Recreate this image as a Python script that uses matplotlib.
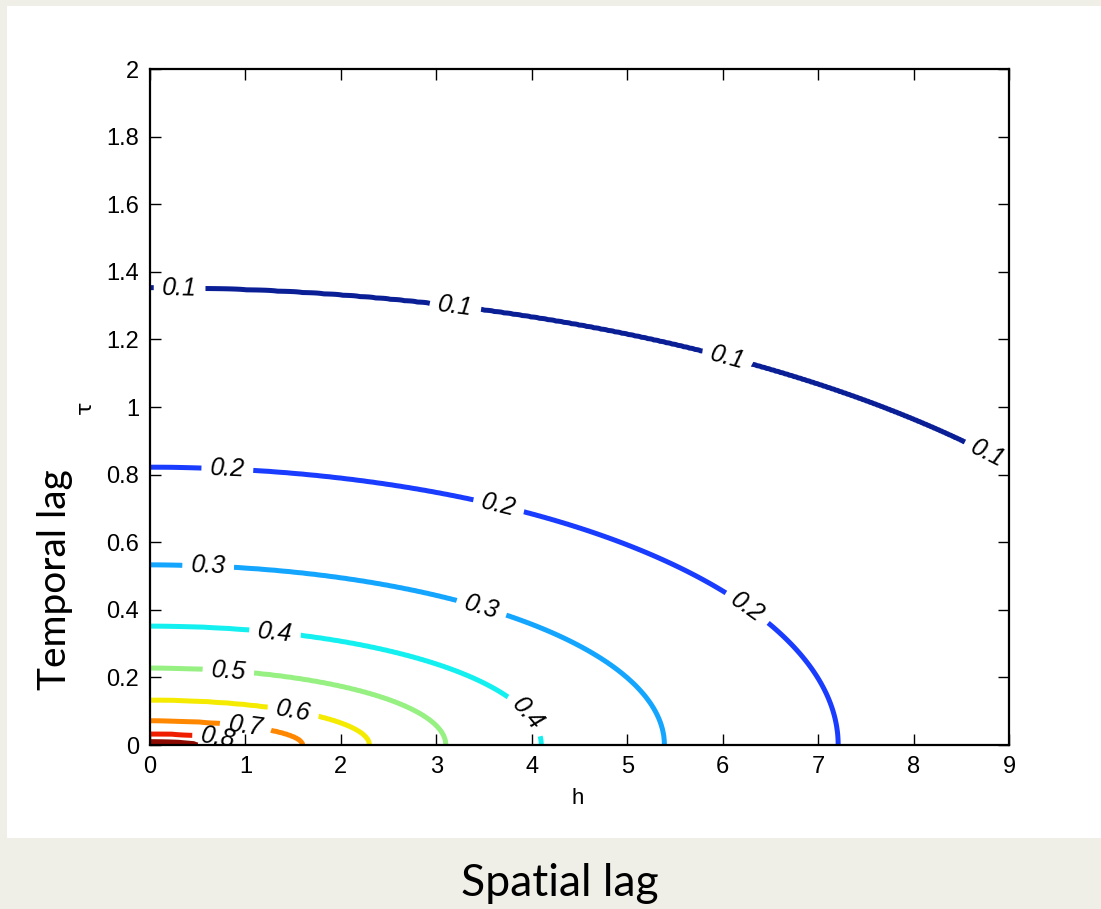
import numpy as np
import matplotlib
matplotlib.use("Agg")
import matplotlib.pyplot as plt
from matplotlib.patches import Rectangle

# ---- data ----
levels = [0.1, 0.2, 0.3, 0.4, 0.5, 0.6, 0.7, 0.8, 0.9]
# spatial-lag intercept (tau = 0) of each contour
h_intercepts = [11.4, 7.21, 5.39, 4.10, 3.10, 2.30, 1.60, 0.97, 0.50]
# temporal-lag intercept (h = 0) of each contour
tau_intercepts = [1.352, 0.822, 0.533, 0.352, 0.228, 0.133, 0.072, 0.033, 0.010]
level_colors = ["#0a1e96", "#193cff", "#14a5ff", "#14f0f0", "#96f082",
                "#f5eb00", "#ff8700", "#f01e00", "#8c0a00"]

# contour label positions (h, tau)
label_pos = [(0.31, 1.346), (3.2, 1.296), (6.05, 1.148), (8.75, 0.849),
             (0.81, 0.814), (3.67, 0.725), (6.39, 0.459),
             (0.61, 0.533), (3.49, 0.42),
             (1.31, 0.334), (3.98, 0.098),
             (0.82, 0.216),
             (1.5, 0.098),
             (1.0, 0.053),
             (0.71, 0.015)]

xticks = [0, 1, 2, 3, 4, 5, 6, 7, 8, 9]
yticks = [0, 0.2, 0.4, 0.6, 0.8, 1, 1.2, 1.4, 1.6, 1.8, 2]
yticklabels = ["0", "0.2", "0.4", "0.6", "0.8", "1", "1.2", "1.4", "1.6", "1.8", "2"]

# ---- build field whose level sets pass through the read intercepts ----
h = np.linspace(0, 9, 700)
t = np.linspace(0, 2, 500)
H, T = np.meshgrid(h, t)
R = np.array([np.sqrt((H / a) ** 2 + (T / b) ** 2)
              for a, b in zip(h_intercepts, tau_intercepts)])
Z = np.full(H.shape, np.nan)
L = np.array(levels)
for k in range(len(L) - 1):
    m = (R[k] <= 1) & (R[k + 1] > 1)
    frac = (1 - R[k][m]) / (R[k + 1][m] - R[k][m])
    Z[m] = L[k] + frac * (L[k + 1] - L[k])
outside = R[0] > 1
Z[outside] = L[0] - 0.05 * (R[0][outside] - 1)
inside = R[-1] <= 1
Z[inside] = L[-1] + 0.1 * (1 - R[-1][inside])

# ---- figure ----
fig = plt.figure(figsize=(11.01, 9.09), dpi=100)
fig.patch.set_facecolor("#f0efe7")
fig.patches.append(Rectangle((7 / 1101, 1 - 838 / 909), 1.0, (838 - 6) / 909,
                             transform=fig.transFigure, facecolor="white",
                             edgecolor="none", zorder=-10))

ax = fig.add_axes([150 / 1101, 1 - 745 / 909, (1009 - 150) / 1101, (745 - 69) / 909])
ax.set_facecolor("white")
ax.set_zorder(5)

cs = ax.contour(H, T, Z, levels=levels, colors=level_colors, linewidths=3.6)
ax.clabel(cs, levels=levels, manual=label_pos, inline=True, inline_spacing=6,
          fmt="%.1f", fontsize=18, colors="black")
for txt in cs.labelTexts:
    txt.set_fontstyle("italic")
    txt.set_family("Liberation Sans")

ax.set_xlim(0, 9)
ax.set_ylim(0, 2)
ax.set_xticks(xticks)
ax.set_yticks(yticks)
ax.set_yticklabels(yticklabels)
ax.tick_params(direction="in", length=8, width=1, top=True, right=True,
               labelsize=17)
ax.tick_params(axis="x", pad=8)
ax.tick_params(axis="y", pad=8)
for lab in ax.get_xticklabels() + ax.get_yticklabels():
    lab.set_family("Liberation Sans")
for s in ax.spines.values():
    s.set_linewidth(1.6)

fig.text(578 / 1101, 1 - 799 / 909, "h", ha="center", va="center",
         fontsize=16, family="Liberation Sans")
fig.text(85 / 1101, 1 - 407 / 909, "τ", ha="center", va="center",
         fontsize=16, rotation=90, family="DejaVu Sans")
fig.text(55 / 1101, 1 - 580 / 909, "Temporal lag", ha="center", va="center",
         fontsize=28, rotation=90, family="Lato")
fig.text(560 / 1101, 1 - 884 / 909, "Spatial lag", ha="center", va="center",
         fontsize=32, family="Lato")
fig.text(561 / 1101, 1 - 172 / 909, "Joint Spatio-Temporal", ha="center",
         va="center", fontsize=24, color="#ff0000", family="Lato")

fig.savefig("out.png", dpi=100, facecolor=fig.get_facecolor())
